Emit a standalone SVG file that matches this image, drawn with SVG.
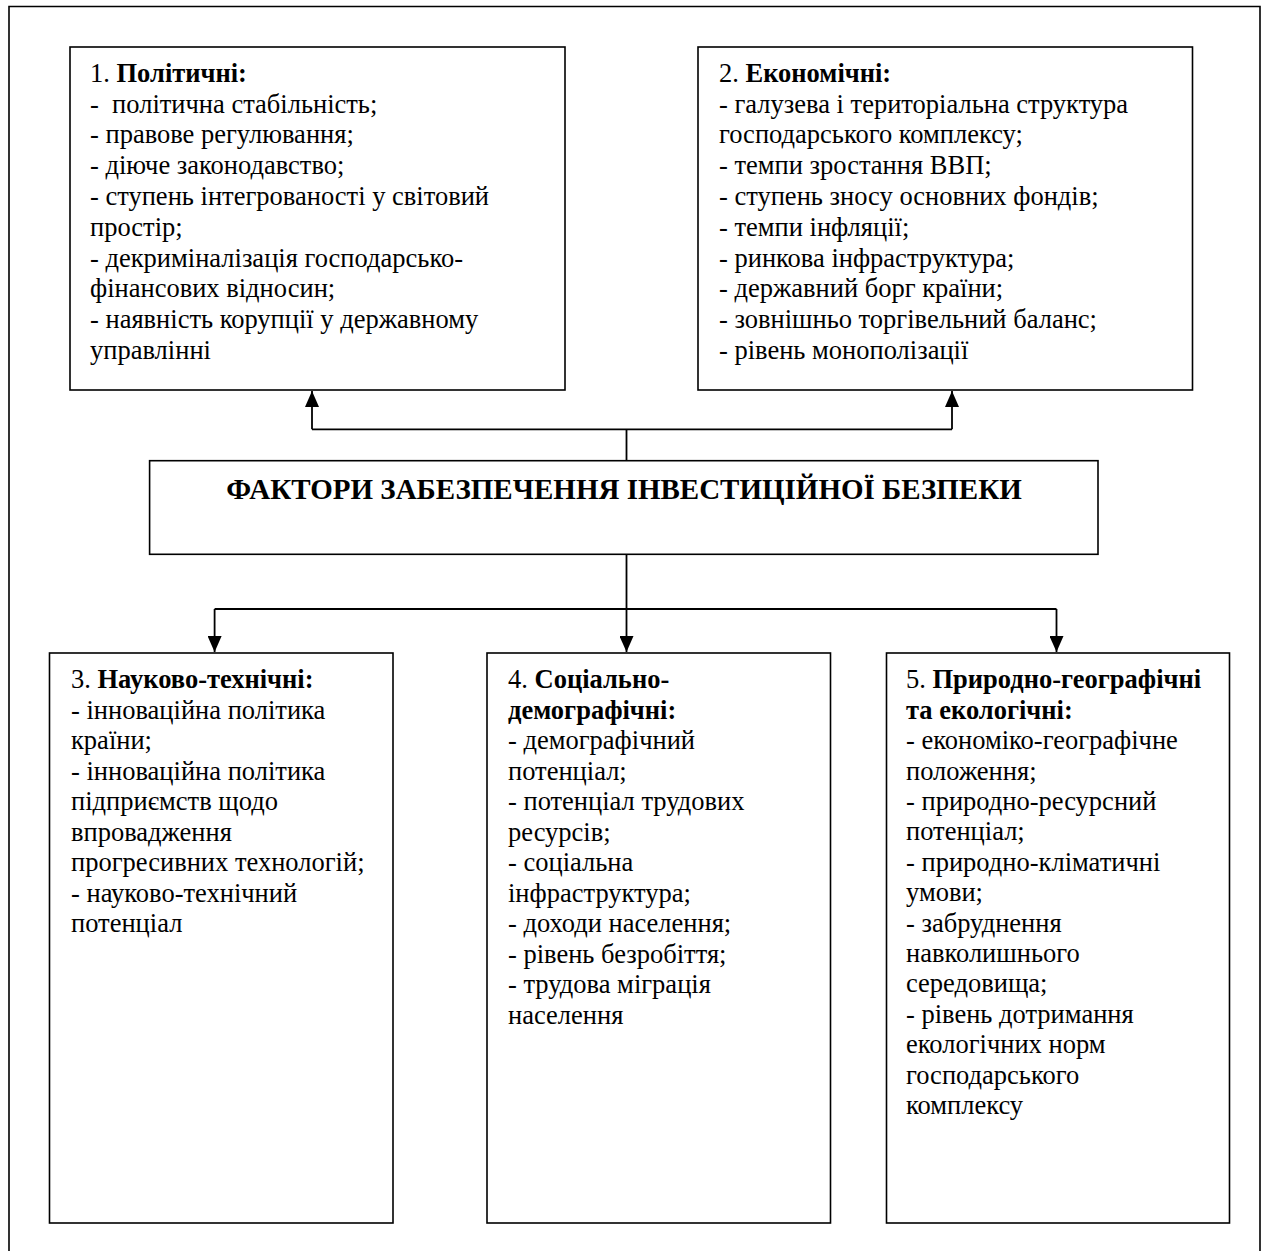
<svg xmlns="http://www.w3.org/2000/svg" width="1264" height="1251" viewBox="0 0 1264 1251">
<style>
.box{fill:#fff;stroke:#000;stroke-width:1.6}
.t{font-family:"Liberation Serif","Times New Roman",serif;font-size:26.5px;fill:#000}
.b{font-weight:bold}
.title{font-family:"Liberation Serif","Times New Roman",serif;font-size:29px;font-weight:bold;fill:#000}
.c{fill:none;stroke:#000;stroke-width:1.8}
</style>
<defs>
<marker id="ah" viewBox="0 0 16 14" refX="16" refY="7" markerWidth="16" markerHeight="14" markerUnits="userSpaceOnUse" orient="auto">
<path d="M0,0 L16,7 L0,14 Z" fill="#000"/>
</marker>
</defs>
<rect width="1264" height="1251" fill="#fff"/>
<path d="M9,1260 L9,6.5 L1260,6.5 L1260,1260" fill="none" stroke="#000" stroke-width="1.6"/>

<g id="connectors">
<path class="c" d="M626.5,460.7 L626.5,429.3"/>
<path class="c" d="M312,429.3 L952,429.3"/>
<path class="c" d="M312,429.3 L312,391" marker-end="url(#ah)"/>
<path class="c" d="M952,429.3 L952,391" marker-end="url(#ah)"/>
<path class="c" d="M626.5,554.3 L626.5,652" marker-end="url(#ah)"/>
<path class="c" d="M214.6,609 L1056.5,609"/>
<path class="c" d="M214.6,609 L214.6,652" marker-end="url(#ah)"/>
<path class="c" d="M1056.5,609 L1056.5,652" marker-end="url(#ah)"/>
</g>

<g id="node1">
<rect class="box" x="70" y="47" width="495" height="343"/>
<text class="t" x="90" y="81.7"><tspan>1. </tspan><tspan class="b">Політичні:</tspan></text>
<text class="t" x="90" y="112.5" xml:space="preserve">-  політична стабільність;</text>
<text class="t" x="90" y="143.3">- правове регулювання;</text>
<text class="t" x="90" y="174.1">- діюче законодавство;</text>
<text class="t" x="90" y="204.9">- ступень інтегрованості у світовий</text>
<text class="t" x="90" y="235.7">простір;</text>
<text class="t" x="90" y="266.5">- декриміналізація господарсько-</text>
<text class="t" x="90" y="297.3">фінансових відносин;</text>
<text class="t" x="90" y="328.1">- наявність корупції у державному</text>
<text class="t" x="90" y="358.9">управлінні</text>
</g>

<g id="node2">
<rect class="box" x="698" y="47" width="494.5" height="343"/>
<text class="t" x="719" y="81.7"><tspan>2. </tspan><tspan class="b">Економічні:</tspan></text>
<text class="t" x="719" y="112.5">- галузева і територіальна структура</text>
<text class="t" x="719" y="143.3">господарського комплексу;</text>
<text class="t" x="719" y="174.1">- темпи зростання ВВП;</text>
<text class="t" x="719" y="204.9">- ступень зносу основних фондів;</text>
<text class="t" x="719" y="235.7">- темпи інфляції;</text>
<text class="t" x="719" y="266.5">- ринкова інфраструктура;</text>
<text class="t" x="719" y="297.3">- державний борг країни;</text>
<text class="t" x="719" y="328.1">- зовнішньо торгівельний баланс;</text>
<text class="t" x="719" y="358.9">- рівень монополізації</text>
</g>

<g id="center">
<rect class="box" x="149.6" y="460.7" width="948.4" height="93.6"/>
<text class="title" x="624" y="499" text-anchor="middle">ФАКТОРИ ЗАБЕЗПЕЧЕННЯ ІНВЕСТИЦІЙНОЇ БЕЗПЕКИ</text>
</g>

<g id="node3">
<rect class="box" x="49.5" y="653" width="343.5" height="570"/>
<text class="t" x="71" y="688.3"><tspan>3. </tspan><tspan class="b">Науково-технічні:</tspan></text>
<text class="t" x="71" y="718.8">- інноваційна політика</text>
<text class="t" x="71" y="749.3">країни;</text>
<text class="t" x="71" y="779.8">- інноваційна політика</text>
<text class="t" x="71" y="810.3">підприємств щодо</text>
<text class="t" x="71" y="840.8">впровадження</text>
<text class="t" x="71" y="871.3">прогресивних технологій;</text>
<text class="t" x="71" y="901.8">- науково-технічний</text>
<text class="t" x="71" y="932.3">потенціал</text>
</g>

<g id="node4">
<rect class="box" x="487" y="653" width="343.5" height="570"/>
<text class="t" x="508" y="688.3"><tspan>4. </tspan><tspan class="b">Соціально-</tspan></text>
<text class="t b" x="508" y="718.8">демографічні:</text>
<text class="t" x="508" y="749.3">- демографічний</text>
<text class="t" x="508" y="779.8">потенціал;</text>
<text class="t" x="508" y="810.3">- потенціал трудових</text>
<text class="t" x="508" y="840.8">ресурсів;</text>
<text class="t" x="508" y="871.3">- соціальна</text>
<text class="t" x="508" y="901.8">інфраструктура;</text>
<text class="t" x="508" y="932.3">- доходи населення;</text>
<text class="t" x="508" y="962.8">- рівень безробіття;</text>
<text class="t" x="508" y="993.3">- трудова міграція</text>
<text class="t" x="508" y="1023.8">населення</text>
</g>

<g id="node5">
<rect class="box" x="886.5" y="653" width="343" height="570"/>
<text class="t" x="906" y="688.3"><tspan>5. </tspan><tspan class="b">Природно-географічні</tspan></text>
<text class="t b" x="906" y="718.7">та екологічні:</text>
<text class="t" x="906" y="749.1">- економіко-географічне</text>
<text class="t" x="906" y="779.5">положення;</text>
<text class="t" x="906" y="809.9">- природно-ресурсний</text>
<text class="t" x="906" y="840.3">потенціал;</text>
<text class="t" x="906" y="870.7">- природно-кліматичні</text>
<text class="t" x="906" y="901.1">умови;</text>
<text class="t" x="906" y="931.5">- забруднення</text>
<text class="t" x="906" y="961.9">навколишнього</text>
<text class="t" x="906" y="992.3">середовища;</text>
<text class="t" x="906" y="1022.7">- рівень дотримання</text>
<text class="t" x="906" y="1053.1">екологічних норм</text>
<text class="t" x="906" y="1083.5">господарського</text>
<text class="t" x="906" y="1113.9">комплексу</text>
</g>
</svg>
